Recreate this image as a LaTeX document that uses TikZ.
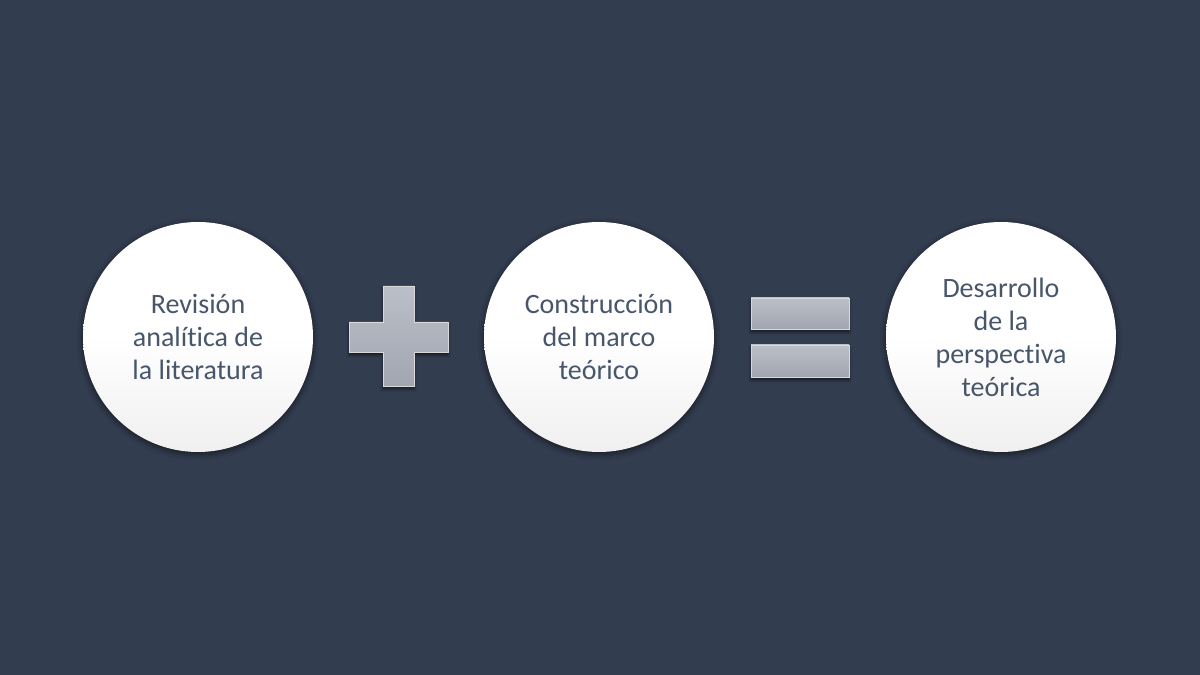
\documentclass[tikz,border=0pt]{standalone}
\usepackage{fontspec}
\setmainfont[Ligatures=NoCommon]{Carlito}
\usetikzlibrary{shadows.blur}
\definecolor{bg}{HTML}{333D50}
\definecolor{txt}{HTML}{47566B}
\definecolor{signtop}{HTML}{BBBFC8}
\definecolor{signbot}{HTML}{A2A6B0}
\tikzset{
  disc/.style={circle, minimum size=230pt, inner sep=0pt, top color=white, bottom color=white!88!gray,
    middle color=white, draw=none, text=txt, align=center,
    font=\fontsize{28}{33}\selectfont,
    blur shadow={shadow xshift=0pt, shadow yshift=-2pt, shadow blur radius=6pt, shadow opacity=60}},
  signbar/.style={top color=signtop, bottom color=signbot, draw=white!70!gray, line width=0.4pt,
    blur shadow={shadow xshift=0pt, shadow yshift=-3pt, shadow blur radius=3pt, shadow opacity=60}}
}
\begin{document}
\begin{tikzpicture}[x=1pt,y=1pt]
\fill[bg] (0,0) rectangle (1200,675);
\useasboundingbox (0,0) rectangle (1200,675);
\node[disc] (c1) at (198,338) {Revisión\\analítica de\\la literatura};
\node[disc] (c2) at (599,338) {Construcción\\del marco\\teórico};
\node[disc] (c3) at (1001,338) {Desarrollo\\de la\\perspectiva\\teórica};
% plus sign
\path[signbar] (383,389) -- (414,389) -- (414,353) -- (448,353) -- (448,323) -- (414,323)
  -- (414,289) -- (383,289) -- (383,323) -- (349,323) -- (349,353) -- (383,353) -- cycle;
% equals sign
\path[signbar] (751,346) rectangle (849,377);
\path[signbar] (751,298) rectangle (849,330);
\end{tikzpicture}
\end{document}
